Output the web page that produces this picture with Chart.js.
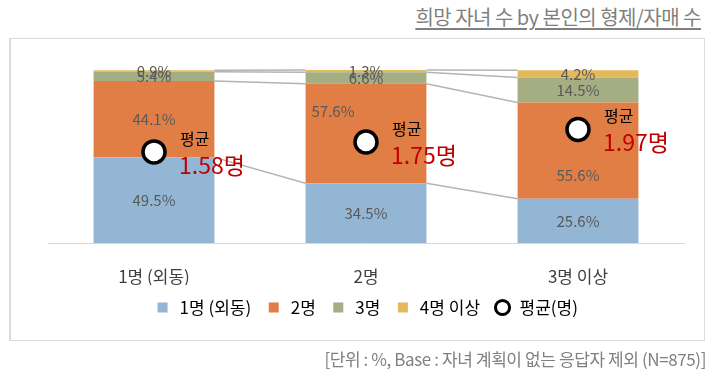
<!DOCTYPE html>
<html>
<head>
<meta charset="utf-8">
<script src="https://cdn.jsdelivr.net/npm/chart.js@4"></script>
<style>
  body { margin:0; background:#fff; font-family:"Noto Sans CJK KR", sans-serif; }
  #wrap { position:relative; width:717px; height:386px; overflow:hidden; }
  #title { position:absolute; right:16px; top:2px; font-size:20px; color:#7f7f7f; text-decoration:underline; text-underline-offset:3px; letter-spacing:-0.5px; }
  #box { position:absolute; left:9px; top:38px; width:693px; height:301px; border:1px solid #dcdcdc; border-left-width:2px; }
  #note { position:absolute; right:11px; top:346px; font-size:17px; color:#808080; letter-spacing:-0.4px; }
  canvas { position:absolute; left:0; top:0; }
</style>
</head>
<body>
<div id="wrap">
  <div id="title">희망 자녀 수 by 본인의 형제/자매 수</div>
  <div id="box"></div>
  <canvas id="c" width="717" height="386"></canvas>
  <div id="note">[단위 : %, Base : 자녀 계획이 없는 응답자 제외 (N=875)]</div>
</div>
<script>
// 본인의 형제/자매 수
const categories = ['1명 (외동)', '2명', '3명 이상'];
const seriesNames = ['1명 (외동)', '2명', '3명', '4명 이상'];
const oneChild = [49.5, 34.5, 25.6];
const twoChild = [44.1, 57.6, 55.6];
const threeChild = [5.4, 6.6, 14.5];
const fourPlus = [0.9, 1.3, 4.2];
const average = [1.58, 1.75, 1.97];
const colors = ['#93b6d5', '#e07e45', '#a5ad82', '#e3b95b'];
const KR = '"Noto Sans CJK KR"';

const barSets = [oneChild, twoChild, threeChild, fourPlus].map((d, i) => ({
    type: 'bar',
    label: seriesNames[i],
    data: d,
    backgroundColor: colors[i],
    stack: 's',
    yAxisID: 'y',
    categoryPercentage: 1,
    barPercentage: 0.57,
    order: 2
}));

// Excel style series lines between bars
const seriesLines = {
    id: 'seriesLines',
    beforeDatasetsDraw(chart) {
        const ctx = chart.ctx;
        const y = chart.scales.y;
        ctx.save();
        ctx.strokeStyle = '#b4b4b4';
        ctx.lineWidth = 1.5;
        for (let s = 0; s < 4; s++) {
            const meta = chart.getDatasetMeta(s);
            for (let i = 0; i < categories.length - 1; i++) {
                let c1 = 0, c2 = 0;
                for (let k = 0; k <= s; k++) { c1 += chart.data.datasets[k].data[i]; c2 += chart.data.datasets[k].data[i + 1]; }
                const a = meta.data[i], b = meta.data[i + 1];
                ctx.beginPath();
                ctx.moveTo(a.x + a.width / 2, y.getPixelForValue(c1));
                ctx.lineTo(b.x - b.width / 2, y.getPixelForValue(c2));
                ctx.stroke();
            }
        }
        ctx.restore();
    }
};

// labels moved by hand in the original so they don't sit under the marker
const nudge = { '1-1': [-33, -22], '1-2': [0, 25] };

const valueLabels = {
    id: 'valueLabels',
    afterDatasetsDraw(chart) {
        const ctx = chart.ctx;
        ctx.save();
        ctx.textAlign = 'center';
        ctx.textBaseline = 'middle';
        ctx.font = '15px ' + KR;
        ctx.fillStyle = '#595959';
        for (let s = 0; s < 4; s++) {
            chart.getDatasetMeta(s).data.forEach((bar, i) => {
                const v = chart.data.datasets[s].data[i];
                const [dx, dy] = nudge[s + '-' + i] || [0, 0];
                ctx.fillText(v.toFixed(1) + '%', bar.x + dx, (bar.y + bar.base) / 2 + dy);
            });
        }
        chart.getDatasetMeta(4).data.forEach((pt, i) => {
            ctx.textAlign = 'left';
            ctx.fillStyle = '#000';
            ctx.font = '16px ' + KR;
            ctx.fillText('평균', pt.x + 26, pt.y - 13);
            ctx.fillStyle = '#c00000';
            ctx.font = '23px ' + KR;
            ctx.fillText(average[i].toFixed(2) + '명', pt.x + 25, pt.y + 13);
        });
        ctx.restore();
    }
};

new Chart(document.getElementById('c'), {
    data: {
        labels: categories,
        datasets: [...barSets, {
            type: 'line',
            label: '평균(명)',
            data: average,
            yAxisID: 'y2',
            showLine: false,
            pointStyle: 'circle',
            pointRadius: 11,
            pointBorderWidth: 3.5,
            pointBorderColor: '#000',
            pointBackgroundColor: '#fff',
            order: 1
        }]
    },
    options: {
        responsive: false,
        animation: false,
        layout: { padding: { left: 48, right: 33, top: 70, bottom: 60 } },
        plugins: {
            tooltip: { enabled: false },
            legend: {
                position: 'bottom',
                labels: {
                    usePointStyle: true,
                    boxHeight: 10,
                    padding: 14,
                    color: '#404040',
                    font: { size: 17, family: KR },
                    generateLabels(chart) {
                        return chart.data.datasets.map((ds, i) => i < 4
                            ? { text: ds.label, fillStyle: colors[i], strokeStyle: colors[i], lineWidth: 0, pointStyle: 'rect', datasetIndex: i }
                            : { text: ds.label, fillStyle: '#fff', strokeStyle: '#000', lineWidth: 3, pointStyle: 'circle', datasetIndex: i });
                    }
                }
            }
        },
        scales: {
            x: {
                stacked: true,
                grid: { display: false },
                border: { color: '#d9d9d9', width: 1 },
                ticks: { color: '#404040', padding: 15, font: { size: 17, family: KR } },
                afterFit(scale) { scale.height = 42; }
            },
            y: { stacked: true, display: false, min: 0, max: 100 },
            y2: { display: false, min: 0, max: 3 }
        }
    },
    plugins: [seriesLines, valueLabels]
});
</script>
</body>
</html>
